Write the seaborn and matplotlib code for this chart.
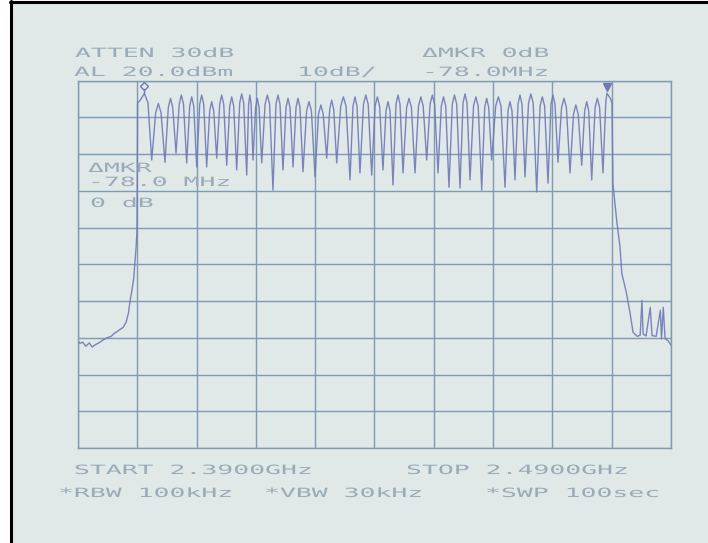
import numpy as np
import pandas as pd
import matplotlib
matplotlib.use("Agg")
import matplotlib.pyplot as plt
import seaborn as sns
from matplotlib.patheffects import AbstractPathEffect
from matplotlib.transforms import Affine2D
from matplotlib.patches import Rectangle
from matplotlib.lines import Line2D

# ---------------- data (frequency in MHz, level in dBm) ----------------
ref_level = 20.0
db_per_div = 10.0
start_mhz = 2390.0
stop_mhz = 2490.0

left_freq = [2390.0, 2390.3, 2390.8, 2391.3, 2391.9, 2392.4, 2392.9, 2393.5, 2394.2,
             2394.9, 2395.6, 2396.1, 2396.6, 2397.1, 2397.6, 2398.1, 2398.5, 2398.8,
             2399.1, 2399.4, 2399.6, 2399.8, 2399.95]
left_level = [-50.7, -51.5, -51.2, -52.3, -51.4, -52.5, -51.9, -51.4, -50.6,
              -50.0, -49.6, -48.8, -48.3, -47.7, -47.2, -45.8, -43.3, -39.8,
              -37.0, -33.8, -29.4, -25.3, -20.7]

dip_freq = [2402.43, 2404.67, 2406.53, 2408.33, 2410.02, 2411.70, 2413.39, 2415.08,
            2416.76, 2418.45, 2419.51, 2420.98, 2422.88, 2424.57, 2426.26, 2427.94,
            2429.97, 2431.94, 2433.63, 2435.87, 2437.55, 2439.53, 2441.43, 2443.12,
            2444.81, 2446.83, 2448.80, 2450.71, 2452.56, 2454.42, 2456.11, 2458.08,
            2459.76, 2462.01, 2463.69, 2465.38, 2467.35, 2469.26, 2470.94, 2472.97,
            2474.94, 2476.63, 2478.53]
dip_level = [-1.6, -2.2, 0.3, -2.4, -3.5, -3.5, -1.1, -3.0, -4.3, -5.7, -1.6, -2.4,
             -9.8, -4.3, -3.5, -4.8, -6.2, -1.1, -2.4, -7.0, -5.1, -5.7, -4.3, -8.4,
             -5.1, -5.1, -1.6, -5.1, -9.0, -9.2, -7.0, -9.8, -1.6, -9.0, -7.0, -6.2,
             -10.3, -7.9, -2.2, -5.1, -3.0, -7.0, -5.1]
peak_level = [16.5, 13.8, 15.2, 16.1, 15.6, 16.1, 14.3, 16.1, 15.6, 16.4, 16.1, 15.2,
              16.1, 16.1, 15.2, 15.2, 14.3, 13.4, 14.7, 15.6, 15.6, 16.1, 15.6, 14.3,
              16.1, 15.2, 15.6, 16.1, 15.6, 16.1, 16.4, 15.6, 15.2, 15.6, 14.3, 16.1,
              16.4, 15.6, 16.1, 15.2, 13.4, 14.3, 15.2, 16.6]

right_freq = [2480.2, 2480.84, 2481.4, 2481.7, 2482.5, 2483.1, 2483.6, 2484.3, 2484.8,
              2485.1, 2485.3, 2485.8, 2486.5, 2486.8, 2487.5, 2488.2, 2488.4, 2488.7,
              2489.0, 2489.5, 2490.0]
right_level = [-7.9, -18.0, -25.3, -32.4, -37.9, -43.3, -48.5, -49.6, -49.3,
               -39.8, -49.0, -49.5, -41.7, -49.4, -49.6, -42.5, -50.3, -41.7,
               -50.2, -50.8, -52.0]

marker_freq = 2401.2
marker_delta = 78.0

# ---------------- build trace ----------------
fx, fy = list(left_freq), list(left_level)
# band edge rise and first channel
fx += [2400.05, 2400.4, marker_freq, 2401.8]
fy += [14.0, peak_level[0] - 2.0, peak_level[0], peak_level[0] - 2.5]
for i in range(len(dip_freq)):
    fx.append(dip_freq[i]); fy.append(dip_level[i])
    if i + 1 < len(dip_freq):
        a, b = dip_freq[i], dip_freq[i + 1]
        p = peak_level[i + 1]
        for frac, lv in ((0.3, p - 2.5), (0.5, p), (0.7, p - 2.5)):
            fx.append(a + frac * (b - a)); fy.append(lv)
p = peak_level[-1]
fx += [2479.0, marker_freq + marker_delta, 2479.8, 2480.05]
fy += [p - 2.5, p, p - 1.5, 14.0]
fx += right_freq
fy += right_level
trace = pd.DataFrame({"freq": fx, "level": fy, "order": np.arange(len(fx))})

# ---------------- style ----------------
BG = "#e1e8e8"
GRID = "#7f9bb0"
TRACE = "#6f79b6"
TEXT = "#9aabb8"

sns.set_theme(style="white")
plt.rcParams["font.family"] = ["DejaVu Sans Mono", "DejaVu Sans"]

W, H = 708, 543
fig = plt.figure(figsize=(W / 100, H / 100), dpi=100, facecolor=BG)
ax = fig.add_axes([78 / W, 1 - 448 / H, 593 / W, (448 - 80.7) / H])
ax.set_facecolor(BG)

sns.lineplot(data=trace, x="freq", y="level", ax=ax, sort=False, estimator=None,
             color=TRACE, linewidth=1.0, alpha=0.9)

# markers
m1_lvl = peak_level[0]
ax.plot([marker_freq, marker_freq], [m1_lvl, m1_lvl + 1.2], color=TRACE, lw=1.0)
ax.plot([marker_freq], [m1_lvl + 2.0], marker="D", ms=4.0, mfc="none", mec=TRACE, mew=1.0)
ax.plot([marker_freq + marker_delta], [peak_level[-1] + 1.6], marker="v", ms=5.5,
        mfc=TRACE, mec=TRACE)

ax.set_xlim(start_mhz, stop_mhz)
ax.set_ylim(ref_level - 10 * db_per_div, ref_level)
ax.set_xticks(np.arange(start_mhz, stop_mhz + 0.1, 10))
ax.set_yticks(np.arange(ref_level - 10 * db_per_div, ref_level + 0.1, db_per_div))
ax.grid(True, color=GRID, linewidth=1.0)
ax.tick_params(length=0, labelbottom=False, labelleft=False)
ax.set_xlabel(""); ax.set_ylabel("")
for s in ax.spines.values():
    s.set_color(GRID); s.set_linewidth(1.0)


# ---------------- analyzer-style wide text ----------------
class HStretch(AbstractPathEffect):
    def __init__(self, sx):
        super().__init__()
        self.sx = sx

    def draw_path(self, renderer, gc, tpath, affine, rgbFace=None):
        m = affine.get_matrix().copy()
        m[0, 0] *= self.sx
        m[0, 1] *= self.sx
        renderer.draw_path(gc, tpath, Affine2D(m), rgbFace)


def label(px, py, s, zorder=5):
    fig.text(px / W, 1 - py / H, s, ha="left", va="baseline", fontsize=9.2,
             color=TEXT, family="DejaVu Sans Mono",
             path_effects=[HStretch(2.07)], zorder=zorder)


label(75, 57, "ATTEN 30dB")
label(422, 57, "ΔMKR 0dB")
label(74, 76, "AL 20.0dBm")
label(297, 76, "10dB/")
label(422, 76, "-78.0MHz")
label(88, 172, "ΔMKR")
label(88, 186, "-78.0 MHz")
label(90, 207, "0 dB")
label(74, 474, "START 2.3900GHz")
label(406, 474, "STOP 2.4900GHz")
label(58, 497, "*RBW 100kHz")
label(264, 497, "*VBW 30kHz")
label(485, 497, "*SWP 100sec")

# photo frame edges
fig.add_artist(Rectangle((0, 0), 9.5 / W, 1, transform=fig.transFigure,
                         facecolor="white", edgecolor="none", zorder=10))
fig.add_artist(Rectangle((0, 1 - 1 / H), 1, 1 / H, transform=fig.transFigure,
                         facecolor="white", edgecolor="none", zorder=10))
fig.add_artist(Line2D([9.5 / W, 1], [1 - 2.2 / H, 1 - 2.2 / H], transform=fig.transFigure,
                      color="black", lw=2.2, zorder=11))
fig.add_artist(Line2D([11 / W, 11 / W], [0, 1 - 1 / H], transform=fig.transFigure,
                      color="black", lw=2.2, zorder=11))

fig.savefig("out.png", dpi=100, facecolor=BG)
